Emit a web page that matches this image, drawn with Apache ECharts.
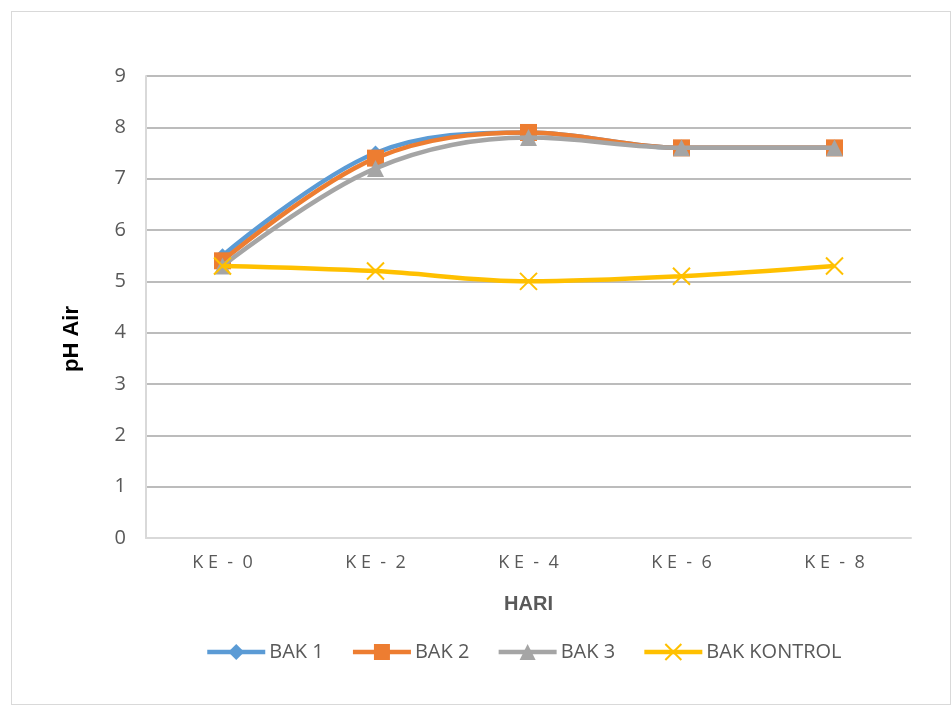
<!DOCTYPE html>
<html>
<head>
<meta charset="utf-8">
<script src="https://cdn.jsdelivr.net/npm/echarts@6/dist/echarts.min.js"></script>
<style>
  html, body { margin: 0; padding: 0; background: #ffffff; }
  #frame { position: absolute; left: 11px; top: 11px; width: 940px; height: 694px; border: 1px solid #d9d9d9; box-sizing: border-box; }
  #chart { position: absolute; left: 0; top: 0; width: 952px; height: 706px; }
</style>
</head>
<body>
<div id="frame"></div>
<div id="chart"></div>
<script>
// Sampling days and measured water pH per tank
const days = ['K E  -  0', 'K E  -  2', 'K E  -  4', 'K E  -  6', 'K E  -  8'];
const bak1 = [5.5, 7.5, 7.9, 7.6, 7.6];
const bak2 = [5.4, 7.4, 7.9, 7.6, 7.6];
const bak3 = [5.3, 7.2, 7.8, 7.6, 7.6];
const bakKontrol = [5.3, 5.2, 5.0, 5.1, 5.3];
const seriesNames = ['BAK 1', 'BAK 2', 'BAK 3', 'BAK KONTROL'];
const yTicks = { min: 0, max: 9, interval: 1 };
const xTitle = 'HARI';
const yTitle = 'pH Air';

const crossPath = 'path://M0,0 L10,10 M10,0 L0,10';
const colors = ['#5b9bd5', '#ed7d31', '#a5a5a5', '#ffc000'];
const symbols = ['diamond', 'rect', 'triangle', crossPath];
const sizes = [15, 17, 17, 17];
const values = [bak1, bak2, bak3, bakKontrol];

const chart = echarts.init(document.getElementById('chart'), null, { renderer: 'canvas' });

// later series are drawn on top of earlier ones
const series = seriesNames.map((name, i) => ({
  name: name,
  type: 'line',
  smooth: 0.35,
  data: values[i],
  symbol: symbols[i],
  symbolSize: sizes[i],
  showAllSymbol: true,
  lineStyle: { color: colors[i], width: 4.5 },
  itemStyle: i === 3
    ? { color: 'rgba(0,0,0,0)', borderColor: colors[i], borderWidth: 2 }
    : { color: colors[i], borderColor: colors[i], borderWidth: 0 },
  emphasis: { disabled: true },
  z: 2 + i
}));

chart.setOption({
  animation: false,
  backgroundColor: 'transparent',
  grid: { left: 146, right: 41, top: 76, bottom: 168, containLabel: false },
  legend: {
    data: seriesNames,
    top: 637,
    left: 200,
    itemWidth: 58,
    itemHeight: 20,
    itemGap: 27,
    lineStyle: { width: 4.5 },
    textStyle: { color: '#595959', fontSize: 20, fontFamily: 'Open Sans', padding: [0, 0, 0, -1] },
    selectedMode: false
  },
  graphic: [
    {
      type: 'text',
      left: 61,
      top: 306,
      rotation: Math.PI / 2,
      style: { text: yTitle, fill: '#000000', font: 'bold 22px "Liberation Sans"' },
      silent: true
    }
  ],
  xAxis: {
    type: 'category',
    data: days,
    boundaryGap: true,
    name: xTitle,
    nameLocation: 'middle',
    nameGap: 56,
    nameTextStyle: { color: '#595959', fontSize: 20, fontWeight: 'bold', fontFamily: 'Liberation Sans' },
    axisLine: { show: true, lineStyle: { color: '#d9d9d9', width: 2 } },
    axisTick: { show: false },
    axisLabel: { color: '#595959', fontSize: 18, fontFamily: 'Open Sans', margin: 16 }
  },
  yAxis: {
    type: 'value',
    min: yTicks.min,
    max: yTicks.max,
    interval: yTicks.interval,
    axisLine: { show: true, lineStyle: { color: '#d9d9d9', width: 2 } },
    axisTick: { show: false },
    axisLabel: { color: '#595959', fontSize: 20, fontFamily: 'Open Sans', margin: 20 },
    splitLine: { show: true, lineStyle: { color: '#a6a6a6', width: 1.5 } }
  },
  series: series
});
</script>
</body>
</html>
